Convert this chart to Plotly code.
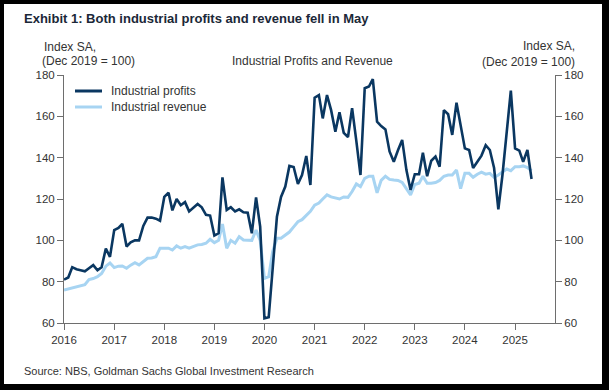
import plotly.graph_objects as go
import pandas as pd

# ---------------- data (monthly, Jan 2016 - May 2025) ----------------
start_month = "2016-01-01"
profits = [
    81, 82, 87, 86, 85.5, 85, 86.5, 88, 85.5, 87, 96, 92,                    # 2016
    105, 106, 108, 97, 99, 100, 100, 107, 111, 111, 110.5, 109.5,             # 2017
    121, 123, 114.5, 120, 117, 118.5, 114, 116, 117.6, 116, 112.3, 112,       # 2018
    102.3, 103.4, 130.5, 114.7, 116, 114, 115, 113.6, 113.4, 103.4, 120.8, 106.6,  # 2019
    62.3, 62.8, 87.3, 111.4, 121, 126, 136, 135.5, 127.3, 131.6, 140.8, 126.8,     # 2020
    169, 170.3, 159, 170.3, 163, 152.6, 162, 152, 150, 164, 148, 131.6,       # 2021
    173.6, 174.4, 178, 157.4, 155.3, 153.7, 143, 138, 143.7, 148.6, 134, 124.4,    # 2022
    132, 132, 142.4, 131, 138.5, 140.5, 135.6, 163, 161, 151, 166.6, 155,     # 2023
    144.5, 143.7, 135, 138, 141, 146, 143.7, 135, 115, 131.6, 151, 172.4,     # 2024
    144.5, 143.4, 138, 143.7, 129.7,                                          # 2025
]
revenue = [
    76, 76.5, 77, 77.5, 78, 78.5, 81, 81.5, 82.4, 84, 87.5, 89,               # 2016
    86.8, 87.5, 87.6, 86.5, 88, 89.2, 88.1, 89.5, 91.3, 91.5, 92.1, 96.2,     # 2017
    96.2, 96.2, 95.3, 97.3, 96.2, 97, 96.2, 97, 97.8, 98, 98.6, 100.5,        # 2018
    98.9, 100, 107.9, 96.2, 100, 98.6, 101.8, 100.2, 100.2, 100, 105, 100,    # 2019
    81.6, 82.4, 94.5, 101, 101, 102.5, 104, 106.5, 109, 110, 112, 114,        # 2020
    117, 118, 120, 122, 121, 120.5, 120, 121, 120.8, 123.6, 127.3, 126,       # 2021
    130, 131, 131, 123, 129, 131, 129.5, 129.2, 129, 128, 125, 122,           # 2022
    127, 127.6, 131, 127.6, 127.6, 128, 129, 131, 131.6, 131.6, 134, 125,     # 2023
    132.4, 132.4, 130.5, 132, 133, 132, 132.4, 130.5, 131.6, 133.2, 134.5, 133.7,  # 2024
    135.6, 135.6, 136, 135.2, 133.7,                                          # 2025
]
dates = pd.date_range(start_month, periods=len(profits), freq="MS")

series_names = ["Industrial profits", "Industrial revenue"]
y_ticks = [60, 80, 100, 120, 140, 160, 180]

title_text = "Exhibit 1: Both industrial profits and revenue fell in May"
subtitle_text = "Industrial Profits and Revenue"
axis_label = "Index SA,<br>(Dec 2019 = 100)"
source_text = "Source: NBS, Goldman Sachs Global Investment Research"

NAVY = "#0a3761"
LIGHT = "#a7d4f2"
TXT = "#333333"
AX = "#6e6e6e"
FONT = "Liberation Sans, Arial, sans-serif"

W, H = 609, 390
L, R, T, B = 64, 54, 75, 67
PW, PH = W - L - R, H - T - B


def px(x):
    return (x - L) / PW


def py(y):
    return (H - B - y) / PH


fig = go.Figure()
fig.add_trace(go.Scatter(x=dates, y=revenue, name=series_names[1], mode="lines",
                         line=dict(color=LIGHT, width=3), showlegend=False))
fig.add_trace(go.Scatter(x=dates, y=profits, name=series_names[0], mode="lines",
                         line=dict(color=NAVY, width=2.6), showlegend=False))
# mirror trace for right axis
fig.add_trace(go.Scatter(x=dates, y=profits, yaxis="y2", mode="lines",
                         line=dict(width=0, color="rgba(0,0,0,0)"),
                         showlegend=False, hoverinfo="skip"))

axis_common = dict(range=[60, 180], tickvals=y_ticks, showgrid=False, zeroline=False,
                   showline=True, linecolor=AX, linewidth=1, ticks="outside",
                   ticklen=6, tickcolor=AX, tickfont=dict(size=11.5, color=TXT, family=FONT))

fig.update_layout(
    width=W, height=H,
    margin=dict(l=L, r=R, t=T, b=B),
    paper_bgcolor="white", plot_bgcolor="white",
    font=dict(family=FONT, color=TXT, size=12),
    showlegend=False,
    xaxis=dict(type="date", range=["2016-01-01", "2025-10-19"], tick0="2016-01-01",
               dtick="M12", tickformat="%Y", showgrid=False, zeroline=False,
               showline=True, linecolor=AX, linewidth=1, ticks="outside", ticklen=6,
               tickcolor=AX, tickfont=dict(size=11.5, color=TXT, family=FONT)),
    yaxis=dict(side="left", **axis_common),
    yaxis2=dict(side="right", overlaying="y", **axis_common),
)

ann = [
    dict(text="<b>" + title_text + "</b>", x=px(22), y=py(18), xanchor="left", yanchor="middle",
         font=dict(size=13, color="#1b2838")),
    dict(text="Index SA,", x=px(42), y=py(47), xanchor="left", yanchor="middle",
         font=dict(size=12, color=TXT)),
    dict(text="(Dec 2019 = 100)", x=px(40), y=py(61), xanchor="left", yanchor="middle",
         font=dict(size=12, color=TXT)),
    dict(text=axis_label, x=px(577), y=py(54), xanchor="right", yanchor="middle",
         font=dict(size=12, color=TXT), align="right"),
    dict(text=subtitle_text, x=px(312), y=py(61), xanchor="center", yanchor="middle",
         font=dict(size=12, color=TXT)),
    dict(text=source_text, x=px(22), y=py(371), xanchor="left", yanchor="middle",
         font=dict(size=11, color=TXT)),
    # legend texts
    dict(text=series_names[0], x=px(109), y=py(91), xanchor="left", yanchor="middle",
         font=dict(size=12, color=TXT)),
    dict(text=series_names[1], x=px(109), y=py(107), xanchor="left", yanchor="middle",
         font=dict(size=12, color=TXT)),
]
for a in ann:
    a.update(xref="paper", yref="paper", showarrow=False)
fig.update_layout(annotations=ann)

shapes = []
# legend line samples
for yy, col in [(91, NAVY), (107, LIGHT)]:
    shapes.append(dict(type="line", xref="paper", yref="paper",
                       x0=px(75), x1=px(102), y0=py(yy), y1=py(yy),
                       line=dict(color=col, width=3)))
# black frame around the exhibit
frame = [
    (0, 0, W, 4),
    (0, 0, 4, H),
    (W - 7, 0, W, H),
    (0, H - 6, W, H),
]
for x0, y0, x1, y1 in frame:
    shapes.append(dict(type="rect", xref="paper", yref="paper",
                       x0=px(x0), x1=px(x1), y0=py(y1), y1=py(y0),
                       fillcolor="black", line=dict(width=0), layer="above"))
fig.update_layout(shapes=shapes)

fig.write_html("out.html", config={"displayModeBar": False},
               post_script="document.body.style.margin='0';document.body.style.padding='0';")
